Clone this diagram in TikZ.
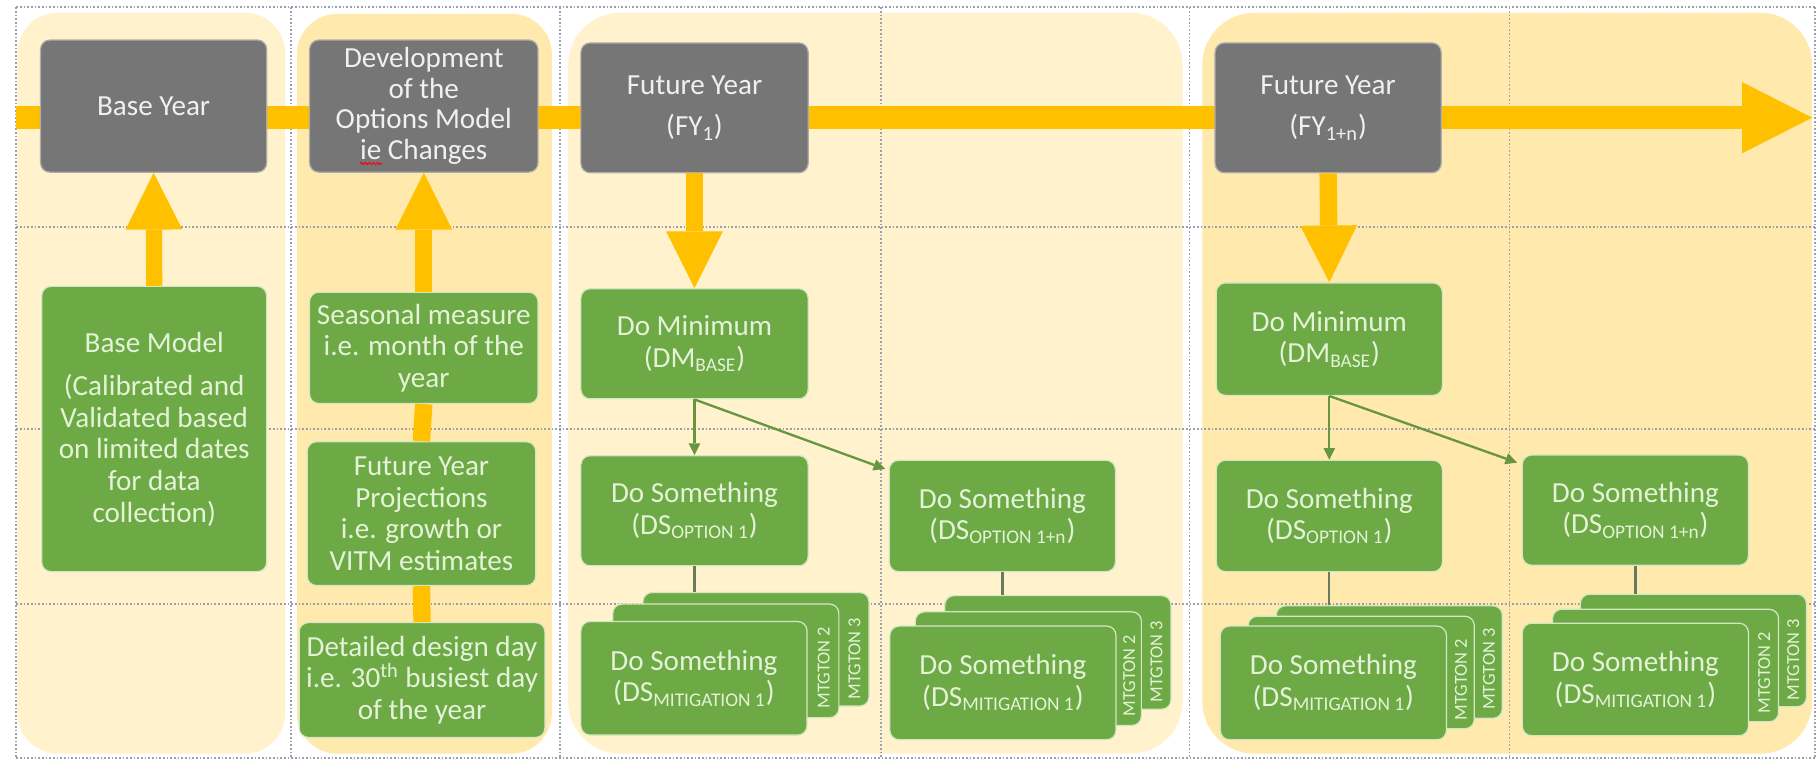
\documentclass[tikz,border=0pt]{standalone}
\usepackage{fontspec}
\setmainfont{Carlito}
\usetikzlibrary{arrows.meta,calc,decorations.pathmorphing}
\definecolor{gbox}{HTML}{767676}
\definecolor{gtext}{HTML}{F0F0F0}
\definecolor{grn}{HTML}{6DAA45}
\definecolor{grntext}{HTML}{E4F2D8}
\definecolor{grnedge}{HTML}{D3E7C3}
\definecolor{gold}{HTML}{FFC000}
\definecolor{bgA}{HTML}{FFF2CC}
\definecolor{bgB}{HTML}{FFE9AD}
\definecolor{gridc}{HTML}{9A9EB0}
\definecolor{linkc}{HTML}{66963F}
\definecolor{stemc}{HTML}{6B7A5C}
\newcommand\subtx[1]{\textsubscript{\fontsize{9.5}{9.5}\selectfont #1}}
\begin{document}
\begin{tikzpicture}[x=0.02cm,y=-0.02cm,
  sz/.style 2 args={minimum width=#1*0.02cm, minimum height=#2*0.02cm},
  boxbase/.style={rectangle, rounded corners=0.16cm, align=center, inner sep=0pt,
    line width=0.6pt, font=\fontsize{14.3}{15.5}\selectfont},
  graybox/.style={boxbase, fill=gbox, draw=gbox!60!white, text=gtext},
  greenbox/.style={boxbase, fill=grn, draw=grnedge, text=grntext},
  mlabel/.style={rotate=90, text=grntext, inner sep=0pt, font=\fontsize{9}{9}\selectfont},
  gridline/.style={gridc, line width=0.8pt, dash pattern=on 0.8pt off 1pt},
  bigarrow/.style={gold, line width=0.3cm, -{Triangle[length=0.98cm,width=0.98cm,line width=0pt]}},
  goldlink/.style={gold, line width=0.3cm},
  glink/.style={linkc, line width=0.04cm, -{Triangle[length=0.2cm,width=0.2cm,line width=0pt]}},
  stem/.style={stemc, line width=0.04cm}
]
\useasboundingbox (0,0) rectangle (1568,656);
\fill[white] (0,0) rectangle (1568,656);
% background regions
\fill[bgA, rounded corners=0.7cm] (15,11) rectangle (246,650);
\fill[bgB, rounded corners=0.7cm] (256,12) rectangle (476,650);
\fill[bgA, rounded corners=0.9cm] (490,11) rectangle (1020,650);
\fill[bgB, rounded corners=0.9cm] (1037,11) rectangle (1563,650);
% grid
\foreach \gx in {14,251,483,760,1026,1302,1565.5}
  \draw[gridline] (\gx,6.3) -- (\gx,654);
\foreach \gy in {6.3,196,370,521,654}
  \draw[gridline] (14,\gy) -- (1565.5,\gy);
% timeline
\coordinate (t0) at (14,101.5);
\coordinate (t1) at (1563,101.5);
\draw[gold, line width=0.4cm, -{Triangle[length=1.21cm,width=1.23cm,line width=0pt]}] (t0) -- (t1);
% gray boxes
\node[graybox, sz={195}{114}] (by) at (132.5,91.5) {Base Year};
\node[graybox, sz={197}{114}, font=\fontsize{14.3}{15}\selectfont] (dev) at (365.5,91.5) {Development\\of the\\Options Model\\ie Changes};
\node[graybox, sz={196}{112}] (fy1) at (599,93) {Future Year\\[5pt](FY\textsubscript{1})};
\node[graybox, sz={195}{112}] (fyn) at (1145.5,93) {Future Year\\[5pt](FY\textsubscript{1+n})};
\draw[red, line width=0.5pt, decorate, decoration={snake, amplitude=0.5pt, segment length=2pt}] ($(dev.south)+(-55,-8)$) -- ($(dev.south)+(-36,-8)$);
% column 1 and 2 green boxes
\node[greenbox, sz={194}{246}] (bm) at (133,370) {Base Model\\[6pt](Calibrated and\\Validated based\\on limited dates\\for data\\collection)};
\node[greenbox, sz={197}{96}] (sea) at (365.5,300) {Seasonal measure\\i.e. month of the\\year};
\node[greenbox, sz={197}{124}] (fyp) at (363.5,443) {Future Year\\Projections\\i.e. growth or\\VITM estimates};
\node[greenbox, sz={212}{99}] (det) at (364,586.5) {Detailed design day\\i.e. 30\textsuperscript{th} busiest day\\of the year};
% FY1 column
\node[greenbox, sz={196}{95}] (dm1) at (599,296.5) {Do Minimum\\(DM\subtx{BASE})};
\node[greenbox, sz={196}{95}] (ds1) at (599,440.5) {Do Something\\(DS\subtx{OPTION 1})};
\node[greenbox, sz={195}{96}] (dsn1) at (864.5,445) {Do Something\\(DS\subtx{OPTION 1+n})};
\node[greenbox, sz={195}{98}] (m1c) at (652,560) {};
\node[greenbox, sz={195}{98}] (m1b) at (626,570) {};
\node[greenbox, sz={195}{98}] (m1a) at (598.5,585) {Do Something\\(DS\subtx{MITIGATION 1})};
\node[mlabel] (l1b) at ($(m1b.east)+(-13.5,6)$) {MTGTON 2};
\node[mlabel] (l1c) at ($(m1c.east)+(-13,8)$) {MTGTON 3};
\node[greenbox, sz={195}{98}] (m2c) at (912.4,562.7) {};
\node[greenbox, sz={195}{98}] (m2b) at (886.9,576.7) {};
\node[greenbox, sz={195}{98}] (m2a) at (865,589) {Do Something\\(DS\subtx{MITIGATION 1})};
\node[mlabel] (l2b) at ($(m2b.east)+(-11,6)$) {MTGTON 2};
\node[mlabel] (l2c) at ($(m2c.east)+(-13,8)$) {MTGTON 3};
% FY1+n column
\node[greenbox, sz={195}{97}] (dm2) at (1146.5,292.5) {Do Minimum\\(DM\subtx{BASE})};
\node[greenbox, sz={195}{96}] (ds2) at (1146.5,445) {Do Something\\(DS\subtx{OPTION 1})};
\node[greenbox, sz={195}{95}] (dsn2) at (1410.5,440) {Do Something\\(DS\subtx{OPTION 1+n})};
\node[greenbox, sz={195}{97}] (m3c) at (1198.2,571) {};
\node[greenbox, sz={195}{97}] (m3b) at (1174,580) {};
\node[greenbox, sz={195}{98}] (m3a) at (1150,589) {Do Something\\(DS\subtx{MITIGATION 1})};
\node[mlabel] (l3b) at ($(m3b.east)+(-12,6)$) {MTGTON 2};
\node[mlabel] (l3c) at ($(m3c.east)+(-12,6)$) {MTGTON 3};
\node[greenbox, sz={195}{97}] (m4c) at (1460.5,561) {};
\node[greenbox, sz={195}{97}] (m4b) at (1436.5,574) {};
\node[greenbox, sz={195}{97}] (m4a) at (1410.5,586) {Do Something\\(DS\subtx{MITIGATION 1})};
\node[mlabel] (l4b) at ($(m4b.east)+(-13,6)$) {MTGTON 2};
\node[mlabel] (l4c) at ($(m4c.east)+(-12,8)$) {MTGTON 3};
% gold arrows
\draw[bigarrow, line width=0.28cm] (bm.north) -- (by.south);
\draw[bigarrow] (sea.north) -- (dev.south);
\draw[goldlink] (fyp.north) -- (sea.south);
\draw[goldlink] (det.north) -- (fyp.south);
\draw[bigarrow] (fy1.south) -- (dm1.north);
\draw[bigarrow] (fyn.south) -- (dm2.north);
% green links
\draw[glink] (dm1.south) -- (ds1.north);
\draw[glink] (dm1.south) -- ($(dsn1.north west)+(-3,8)$);
\draw[glink] (dm2.south) -- (ds2.north);
\draw[glink] (dm2.south) -- ($(dsn2.north west)+(-4,7)$);
% stems to mitigation stacks
\draw[stem] (ds1.south) -- (ds1.south |- m1c.north);
\draw[stem] (dsn1.south) -- (dsn1.south |- m2c.north);
\draw[stem] (ds2.south) -- (ds2.south |- m3c.north);
\draw[stem] (dsn2.south) -- (dsn2.south |- m4c.north);
\end{tikzpicture}
\end{document}
